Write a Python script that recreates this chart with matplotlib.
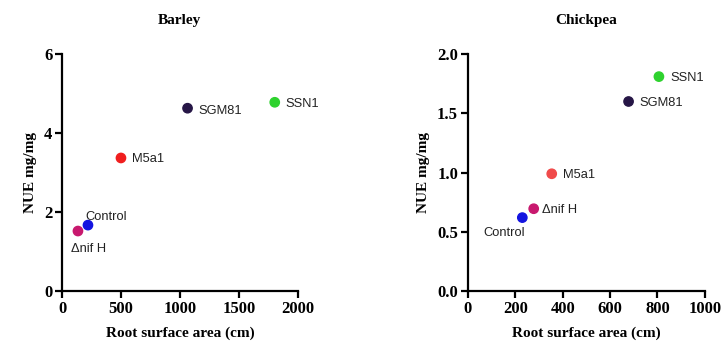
import numpy as np
import matplotlib
matplotlib.use('Agg')
import matplotlib.pyplot as plt

# data
strains = ['\u0394nif H', 'Control', 'M5a1', 'SGM81', 'SSN1']
colors = ['#c8186e', '#1414e0', '#f01e1e', '#261646', '#2ed22e']
colors_chick = ['#c8186e', '#1414e0', '#f04a4a', '#261646', '#2ed22e']

barley_area = [135, 220, 500, 1065, 1805]
barley_nue = [1.52, 1.67, 3.37, 4.63, 4.78]

chick_area = [278, 230, 354, 678, 806]
chick_nue = [0.695, 0.62, 0.99, 1.60, 1.81]

# label offsets in points (dx, dy, ha)
barley_lab = [(-5, -13, 'left'), (-2, 6, 'left'), (8, -1, 'left'), (8, -2, 'left'), (8, -1, 'left')]
chick_lab = [(6, -1, 'left'), (-28, -11, 'left'), (8, -1, 'left'), (8, -1, 'left'), (8, -1, 'left')]

serif = 'Liberation Serif'
sans = 'Liberation Sans'

fig = plt.figure(figsize=(7.23, 3.49), dpi=100)
ax1 = fig.add_axes([0.0858, 0.166, 0.326, 0.679])
ax2 = fig.add_axes([0.647, 0.166, 0.328, 0.679])


def style(ax, title, xlim, xticks, ylim, yticks, yfmt):
    ax.set_xlim(*xlim)
    ax.set_ylim(*ylim)
    ax.set_xticks(xticks)
    ax.set_yticks(yticks)
    ax.set_xticklabels([str(t) for t in xticks], fontfamily=serif, fontweight='bold', fontsize=12)
    ax.set_yticklabels([yfmt.format(t) for t in yticks], fontfamily=serif, fontweight='bold', fontsize=12)
    for s in ['top', 'right']:
        ax.spines[s].set_visible(False)
    for s in ['left', 'bottom']:
        ax.spines[s].set_linewidth(1.6)
    ax.tick_params(width=1.6, length=5, direction='out', pad=2)
    ax.set_title(title, fontfamily=serif, fontweight='bold', fontsize=11, pad=22)
    ax.set_xlabel('Root surface area (cm)', fontfamily=serif, fontweight='bold', fontsize=11, labelpad=7)
    ax.set_ylabel('NUE mg/mg', fontfamily=serif, fontweight='bold', fontsize=11, labelpad=5)


for ax, xs, ys, cols, labs in [(ax1, barley_area, barley_nue, colors, barley_lab),
                               (ax2, chick_area, chick_nue, colors_chick, chick_lab)]:
    ax.scatter(xs, ys, s=45, c=cols, zorder=3, clip_on=False)
    for name, x, y, (dx, dy, ha) in zip(strains, xs, ys, labs):
        ax.annotate(name, (x, y), xytext=(dx, dy), textcoords='offset points',
                    ha=ha, va='center', fontsize=9.3, fontfamily=sans, color='#222222')

style(ax1, 'Barley', (0, 2000), [0, 500, 1000, 1500, 2000], (0, 6), [0, 2, 4, 6], '{:d}')
style(ax2, 'Chickpea', (0, 1000), [0, 200, 400, 600, 800, 1000], (0, 2.0), [0.0, 0.5, 1.0, 1.5, 2.0], '{:.1f}')

fig.savefig('out.png', dpi=100)
